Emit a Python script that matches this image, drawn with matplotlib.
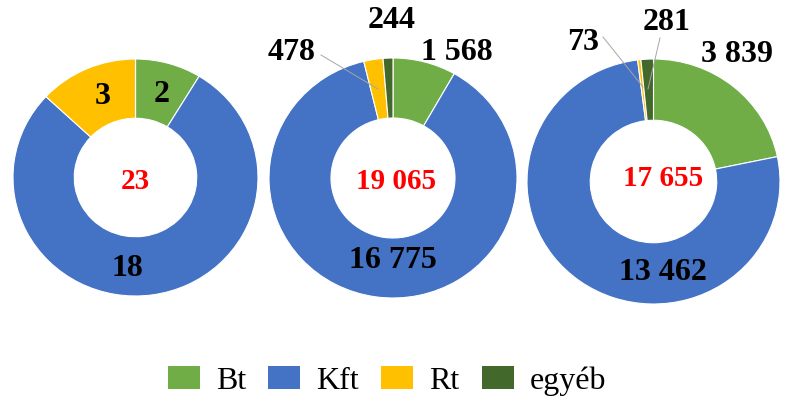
import matplotlib.pyplot as plt
from matplotlib.lines import Line2D
from matplotlib.patches import Patch

plt.rcParams["font.family"] = ["Liberation Serif", "DejaVu Serif"]

W, H = 790, 401

categories = ["Bt", "Kft", "Rt", "egyéb"]
values_1 = [2, 18, 3, 0]
values_2 = [1568, 16775, 478, 244]
values_3 = [3839, 13462, 73, 281]
totals = ["23", "19 065", "17 655"]
labels_1 = ["2", "18", "3", ""]
labels_2 = ["1 568", "16 775", "478", "244"]
labels_3 = ["3 839", "13 462", "73", "281"]

COLORS = ["#70AD47", "#4472C4", "#FFC000", "#43682B"]

# pixel boxes (left, top, right, bottom) of each donut
BOXES = [(13, 59, 258, 296), (269, 58, 517, 298), (527, 59, 780, 304)]
# pixel positions of labels per donut (None = no label)
LABEL_POS = [
    [(162, 95), (127, 268), (103, 97), None],
    [(457, 53), (393, 261), (292, 53), (392, 20)],
    [(737, 55), (663, 273), (583, 43), (667, 22)],
]
CENTER_POS = [(135, 182), (396, 182), (663, 178)]
# leader lines in pixels
LEADERS = [
    ((321, 55), (378, 89)),
    ((603, 37), (643, 87)),
    ((660, 38), (648, 89)),
]


def px(x, y):
    return x / W, 1 - y / H


fig = plt.figure(figsize=(W / 100, H / 100), dpi=100)
fig.patch.set_facecolor("white")

series = [(values_1, labels_1), (values_2, labels_2), (values_3, labels_3)]
for i, ((vals, labs), (l, t, r, b)) in enumerate(zip(series, BOXES)):
    ax = fig.add_axes([l / W, 1 - b / H, (r - l) / W, (b - t) / H])
    ax.pie(vals, colors=COLORS, startangle=90, counterclock=False,
           wedgeprops=dict(width=0.5, edgecolor="white", linewidth=0.8))
    ax.set_aspect("auto")
    ax.set_xlim(-1, 1)
    ax.set_ylim(-1, 1)
    ax.axis("off")
    for lab, pos in zip(labs, LABEL_POS[i]):
        if pos is None or not lab:
            continue
        fig.text(*px(*pos), lab, ha="center", va="center", fontsize=23,
                 weight="bold", color="black")
    fig.text(*px(*CENTER_POS[i]), totals[i], ha="center", va="center",
             fontsize=21, weight="bold", color="#FF0000")

for a, b in LEADERS:
    xa, ya = px(*a)
    xb, yb = px(*b)
    fig.add_artist(Line2D([xa, xb], [ya, yb], color="#A6A6A6", lw=0.7))

handles = [Patch(facecolor=c, edgecolor="none") for c in COLORS]
fig.legend(handles, categories, loc="center", bbox_to_anchor=px(387, 381),
           ncol=4, frameon=False, fontsize=23, handlelength=1.0,
           handleheight=0.7, handletextpad=0.5, columnspacing=0.7,
           borderpad=0, borderaxespad=0)

fig.savefig("out.png", dpi=100)
